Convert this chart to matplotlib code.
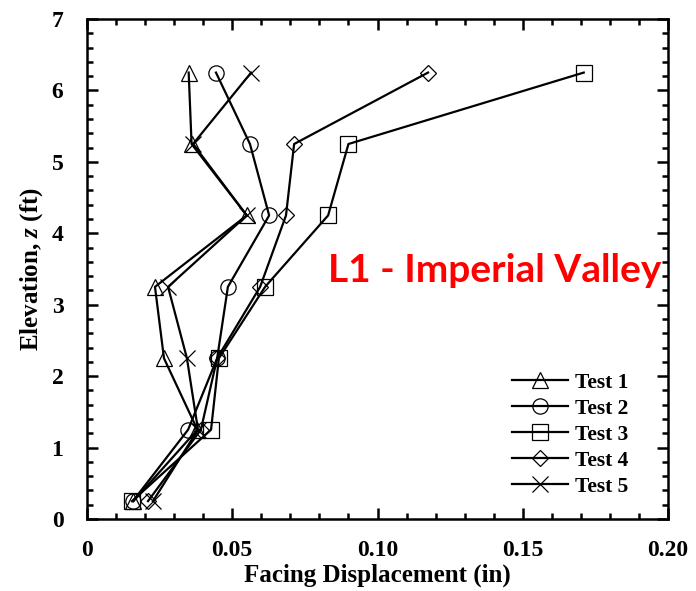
import matplotlib
matplotlib.use("Agg")
import matplotlib.pyplot as plt
from matplotlib.ticker import MultipleLocator, FixedLocator

elev = [6.25, 5.25, 4.25, 3.25, 2.25, 1.25, 0.25]
test1 = [0.035, 0.036, 0.055, 0.0234, 0.0265, 0.038, 0.016]
test2 = [0.0444, 0.0561, 0.0627, 0.0485, 0.0448, 0.0348, 0.0158]
test3 = [0.171, 0.090, 0.083, 0.0613, 0.0454, 0.0427, 0.0155]
test4 = [0.1174, 0.0713, 0.0685, 0.0596, 0.0448, 0.0392, 0.021]
test5 = [0.0565, 0.0365, 0.055, 0.0279, 0.0344, 0.0382, 0.0227]
series = [("Test 1", test1, "^"), ("Test 2", test2, "o"), ("Test 3", test3, "s"),
          ("Test 4", test4, "D"), ("Test 5", test5, "x")]
xticks = [0, 0.05, 0.10, 0.15, 0.20]
xticklabels = ["0", "0.05", "0.10", "0.15", "0.20"]

plt.rcParams['font.family'] = ['Liberation Serif', 'DejaVu Serif']
plt.rcParams['mathtext.fontset'] = 'custom'
plt.rcParams['mathtext.it'] = 'Liberation Serif:italic:bold'
plt.rcParams['mathtext.rm'] = 'Liberation Serif:bold'

fig = plt.figure(figsize=(6.96, 5.91), dpi=100)
ax = fig.add_axes([87/696, 72/591, 581/696, 500/591])

for name, vals, m in series:
    ms = 11 if m in ("^", "o", "s") else (8 if m == "D" else 12)
    ax.plot(vals, elev, color='black', lw=1.6, marker=m, markersize=ms,
            markerfacecolor='none', markeredgecolor='black', markeredgewidth=0.9,
            label=name)

ax.set_xlim(0, 0.20)
ax.set_ylim(0, 7)
ax.xaxis.set_major_locator(FixedLocator(xticks))
ax.set_xticklabels(xticklabels)
ax.xaxis.set_minor_locator(MultipleLocator(0.01))
ax.yaxis.set_major_locator(MultipleLocator(1))
ax.yaxis.set_minor_locator(MultipleLocator(0.2))
ax.tick_params(which='both', direction='in', top=True, right=True, width=1.8)
ax.tick_params(which='major', length=8, labelsize=17, pad=17)
ax.tick_params(axis='x', which='major', pad=15)
ax.tick_params(which='minor', length=4.5)
for lab in ax.get_xticklabels() + ax.get_yticklabels():
    lab.set_fontweight('bold')
for s in ax.spines.values():
    s.set_linewidth(1.8)

ax.set_xlabel("Facing Displacement (in)", fontsize=18, fontweight='bold', labelpad=2)
ax.set_ylabel(r"Elevation, $z$ (ft)", fontsize=18, fontweight='bold', labelpad=5)

ax.text(0.1405, 3.48, "L1 - Imperial Valley", color='#ff0000', fontsize=28,
        fontweight='bold', family=['Lato', 'DejaVu Sans'], ha='center', va='center')

leg = ax.legend(loc='lower right', bbox_to_anchor=(1 - 12/581, -6/500), frameon=False,
                prop={'family': 'Liberation Serif', 'weight': 'bold', 'size': 15.5},
                handlelength=2.6, labelspacing=0.28, handletextpad=0.3,
                borderaxespad=0.9)

fig.savefig("out.png", dpi=100)
